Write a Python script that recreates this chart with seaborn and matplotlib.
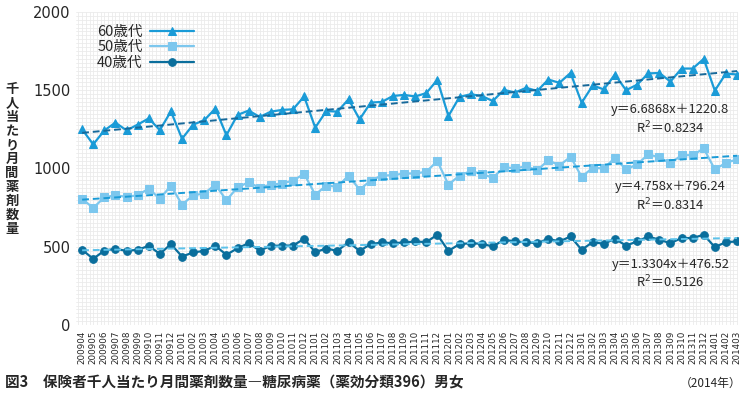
import numpy as np
import pandas as pd
import seaborn as sns
import matplotlib.pyplot as plt
import matplotlib.ticker as plticker

months = ['200904', '200905', '200906', '200907', '200908', '200909', '200910', '200911', '200912',
          '201001', '201002', '201003', '201004', '201005', '201006', '201007', '201008', '201009',
          '201010', '201011', '201012', '201101', '201102', '201103', '201104', '201105', '201106',
          '201107', '201108', '201109', '201110', '201111', '201112', '201201', '201202', '201203',
          '201204', '201205', '201206', '201207', '201208', '201209', '201210', '201211', '201212',
          '201301', '201302', '201303', '201304', '201305', '201306', '201307', '201308', '201309',
          '201310', '201311', '201312', '201401', '201402', '201403']

age60 = [1250, 1154, 1243, 1293, 1243, 1280, 1320, 1245, 1365, 1190,
         1280, 1308, 1383, 1213, 1342, 1370, 1329, 1363, 1374, 1378,
         1460, 1261, 1367, 1363, 1442, 1314, 1421, 1425, 1463, 1470,
         1460, 1481, 1566, 1335, 1457, 1474, 1463, 1431, 1502, 1485,
         1515, 1495, 1568, 1547, 1610, 1420, 1530, 1505, 1600, 1500,
         1535, 1607, 1610, 1555, 1638, 1638, 1700, 1497, 1607, 1600]
age50 = [806, 748, 816, 829, 819, 829, 872, 806, 891, 769,
         829, 840, 897, 797, 880, 912, 876, 897, 904, 923,
         966, 833, 891, 883, 955, 865, 923, 955, 957, 968,
         968, 979, 1047, 897, 955, 983, 966, 940, 1008, 1002,
         1013, 989, 1053, 1019, 1075, 947, 1004, 1000, 1068, 994,
         1026, 1090, 1072, 1032, 1085, 1085, 1128, 994, 1036, 1058]
age40 = [481, 423, 476, 487, 474, 481, 506, 455, 517, 438,
         464, 474, 506, 449, 491, 523, 476, 506, 508, 508,
         551, 466, 489, 474, 530, 474, 517, 528, 523, 528,
         534, 530, 577, 474, 517, 523, 519, 502, 545, 534,
         529, 523, 551, 534, 566, 481, 530, 519, 551, 508,
         534, 566, 545, 523, 556, 556, 577, 498, 530, 534]

# trend lines as printed on the chart (x = 1..60)
trend_coef = {'60歳代': (6.6868, 1220.8), '50歳代': (4.758, 796.24), '40歳代': (1.3304, 476.52)}
trend_text = {'60歳代': ('y＝6.6868x＋1220.8', 'R$^2$＝0.8234'),
              '50歳代': ('y＝4.758x＋796.24', 'R$^2$＝0.8314'),
              '40歳代': ('y＝1.3304x＋476.52', 'R$^2$＝0.5126')}

series = {'60歳代': age60, '50歳代': age50, '40歳代': age40}
colors = {'60歳代': '#1a9bd7', '50歳代': '#7cc7ee', '40歳代': '#0a6e9c'}
trend_colors = {'60歳代': '#17699a', '50歳代': '#1a9bd7', '40歳代': '#5cc2ea'}
markers = {'60歳代': '^', '50歳代': 's', '40歳代': 'o'}
text_pos = {'60歳代': (1374, 1259), '50歳代': (882, 767), '40歳代': (390, 275)}

sns.set_style("white")
plt.rcParams['font.family'] = ['Noto Sans CJK JP', 'DejaVu Sans']
plt.rcParams['mathtext.fontset'] = 'dejavusans'

idx = np.arange(len(months))
df = pd.concat([pd.DataFrame({'idx': idx, 'value': v, 'age': k}) for k, v in series.items()])

fig = plt.figure(figsize=(7.49, 3.96), dpi=100)
ax = fig.add_axes([0.1015, 0.179, 0.884, 0.791])

for name in series:
    sub = df[df['age'] == name]
    sns.lineplot(data=sub, x='idx', y='value', ax=ax, color=colors[name], marker=markers[name],
                 markersize=5.5, markeredgecolor=colors[name], lw=1.6, label=name, zorder=3)

for name, (a, b) in trend_coef.items():
    ax.plot(idx, a * (idx + 1) + b, ls=(0, (3.5, 2)), color=trend_colors[name], lw=1.4, zorder=4)
    t1, t2 = trend_text[name]
    y1, y2 = text_pos[name]
    ax.text(53.0, y1, t1, ha='center', va='center', fontsize=9.3, zorder=5)
    ax.text(53.0, y2, t2, ha='center', va='center', fontsize=9.3, zorder=5)

ax.set_xlim(-0.55, 59.1)
ax.set_ylim(0, 2000)
ax.set_xticks(idx)
ax.set_xticklabels(months, rotation=90, fontsize=6.3, family='DejaVu Sans')
ax.set_yticks([0, 500, 1000, 1500, 2000])
ax.set_yticklabels(['0', '500', '1000', '1500', '2000'], fontsize=10.5, family='DejaVu Sans')
ax.tick_params(axis='both', length=0, pad=4)
ax.yaxis.set_minor_locator(plticker.MultipleLocator(25))
ax.xaxis.set_minor_locator(plticker.MultipleLocator(1 / 3))
ax.grid(which='both', color='#ebebeb', lw=0.6)
ax.set_axisbelow(True)
ax.set_xlabel('')
ax.set_ylabel('')
sns.despine(ax=ax, left=True, bottom=True)

leg = ax.legend(loc='upper left', bbox_to_anchor=(0.012, 1.0), frameon=False, markerfirst=False,
                fontsize=10.5, handlelength=3.0, labelspacing=0.1, handletextpad=0.5)

fig.text(0.016, 0.598, '\n'.join('千人当たり月間薬剤数量'), ha='center', va='center',
         fontsize=9.5, fontweight='bold', linespacing=1.0)
fig.text(0.007, 0.033, '図3　保険者千人当たり月間薬剤数量―糖尿病薬（薬効分類396）男女',
         ha='left', va='center', fontsize=10.5, fontweight='bold')
fig.text(0.99, 0.033, '（2014年）', ha='right', va='center', fontsize=8.5)

fig.savefig('out.png', dpi=100)
